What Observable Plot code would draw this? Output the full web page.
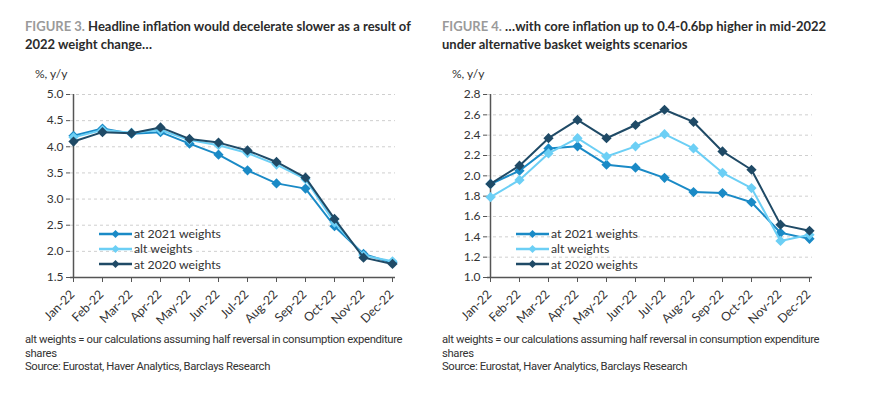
<!DOCTYPE html>
<html><head><meta charset="utf-8">
<script src="https://cdn.jsdelivr.net/npm/d3@7"></script>
<script src="https://cdn.jsdelivr.net/npm/@observablehq/plot@0.6"></script>
<style>
html,body{margin:0;padding:0;background:#fff;}
#root{position:relative;width:869px;height:394px;overflow:hidden;background:#fff;font-family:Lato,"Open Sans",sans-serif;color:#333;}
.title{position:absolute;font-weight:700;font-size:13px;line-height:18px;color:#2b2b2b;white-space:nowrap;}
.title div{height:18px;}
.title .fig{color:#9a9a9a;}
.unit{position:absolute;font-size:12px;color:#333;}
.note{position:absolute;font-family:Roboto,"Liberation Sans",sans-serif;font-size:11.3px;line-height:13.5px;color:#333;white-space:nowrap;letter-spacing:-0.35px;}
.chart{position:absolute;}
.legend{position:absolute;font-size:12.3px;color:#333;}
.legend .row{height:15.3px;display:flex;align-items:center;}
.legend svg{margin-right:2px;}
</style></head>
<body><div id="root"></div>
<script>
const months = ["Jan-22","Feb-22","Mar-22","Apr-22","May-22","Jun-22","Jul-22","Aug-22","Sep-22","Oct-22","Nov-22","Dec-22"];
const seriesNames = ["at 2021 weights","alt weights","at 2020 weights"];
const seriesColors = ["#1a8ac6","#6ccff5","#1f4a66"];

const headline2021 = [4.21,4.35,4.25,4.28,4.06,3.85,3.55,3.30,3.20,2.48,1.95,1.78];
const headlineAlt  = [4.18,4.32,4.27,4.32,4.13,4.03,3.88,3.66,3.38,2.55,1.92,1.81];
const headline2020 = [4.10,4.28,4.26,4.37,4.15,4.08,3.93,3.71,3.41,2.62,1.88,1.76];

const core2021 = [1.92,2.05,2.27,2.29,2.11,2.08,1.98,1.84,1.83,1.74,1.44,1.38];
const coreAlt  = [1.79,1.96,2.22,2.37,2.19,2.29,2.41,2.27,2.03,1.88,1.36,1.42];
const core2020 = [1.92,2.10,2.37,2.55,2.37,2.50,2.65,2.53,2.24,2.06,1.52,1.46];

const headlineTicks = [1.5,2.0,2.5,3.0,3.5,4.0,4.5,5.0];
const coreTicks = [1.0,1.2,1.4,1.6,1.8,2.0,2.2,2.4,2.6,2.8];

const root = document.getElementById("root");

function el(tag, cls, style, html){
  const e = document.createElement(tag);
  if (cls) e.className = cls;
  Object.assign(e.style, style || {});
  if (html != null) e.innerHTML = html;
  root.appendChild(e);
  return e;
}

function makeChart(seriesList, ticks, left){
  const rows = [];
  seriesList.forEach((vals, si) => vals.forEach((v, i) => rows.push({month: months[i], value: v, series: seriesNames[si]})));
  const marks = [
    Plot.gridY(ticks.slice(1), {stroke:"#cfcfcf", strokeOpacity:1, strokeDasharray:"3,3"}),
    Plot.axisY(ticks, {tickFormat: d3.format(".1f"), tickSize: 4, tickPadding: 3, fontSize: 12, fill:"#333", stroke:"#555"}),
    Plot.axisX({tickSize: 5, tickFormat: () => "", stroke:"#555"}),
    Plot.axisX({tickRotate: -45, tickSize: 5, tickPadding: 4, dx: -1, dy: 6, fontSize: 12.3, fill:"#333", stroke:"none"}),
    Plot.ruleX([months[0]], {stroke:"#555", strokeWidth:1.5}),
    Plot.ruleY([ticks[0]], {stroke:"#555", strokeWidth:1.5})
  ];
  seriesNames.forEach((name, si) => {
    const d = rows.filter(r => r.series === name);
    marks.push(Plot.line(d, {x:"month", y:"value", stroke: seriesColors[si], strokeWidth: 2}));
    marks.push(Plot.dot(d, {x:"month", y:"value", fill: seriesColors[si], symbol:"diamond2", r: 4.6, stroke:"none"}));
  });
  const svg = Plot.plot({
    width: 420, height: 240,
    marginLeft: 70, marginRight: 25, marginTop: 12, marginBottom: 45,
    style: {background:"transparent", fontFamily:"Lato, 'Open Sans', sans-serif", color:"#333", overflow:"visible"},
    x: {type:"point", domain: months, padding: 0, label: null},
    y: {domain: [ticks[0], ticks[ticks.length-1]], label: null},
    marks
  });
  const wrap = el("div", "chart", {left: left + "px", top: "82px"});
  wrap.appendChild(svg);
}

function legend(x, y){
  const lg = el("div", "legend", {left: x + "px", top: y + "px"});
  seriesNames.forEach((name, si) => {
    const row = document.createElement("div");
    row.className = "row";
    row.innerHTML = `<svg width="33" height="10"><line x1="0" x2="33" y1="5" y2="5" stroke="${seriesColors[si]}" stroke-width="2.5"/><path d="M16.5,1 L20.5,5 L16.5,9 L12.5,5 Z" fill="${seriesColors[si]}"/></svg><span>${name}</span>`;
    lg.appendChild(row);
  });
}

const noteLines = ["alt weights = our calculations assuming half reversal in consumption expenditure", "shares", "Source: Eurostat, Haver Analytics, Barclays Research"];

// Left panel
el("div", "title", {left:"25px", top:"17px"}, '<div><span class="fig">FIGURE 3.</span> <span>Headline inflation would decelerate slower as a result of</span></div><div><span>2022 weight change…</span></div>');
el("div", "unit", {left:"35px", top:"66px"}, "%, y/y");
makeChart([headline2021, headlineAlt, headline2020], headlineTicks, 0);
legend(99, 226);
el("div", "note", {left:"25px", top:"333px"}, noteLines.join("<br>"));

// Right panel
el("div", "title", {left:"442px", top:"17px"}, '<div><span class="fig">FIGURE 4.</span> <span>…with core inflation up to 0.4-0.6bp higher in mid-2022</span></div><div><span>under alternative basket weights scenarios</span></div>');
el("div", "unit", {left:"452px", top:"66px"}, "%, y/y");
makeChart([core2021, coreAlt, core2020], coreTicks, 417);
legend(516, 226);
el("div", "note", {left:"442px", top:"333px"}, noteLines.join("<br>"));
</script>
</body></html>
